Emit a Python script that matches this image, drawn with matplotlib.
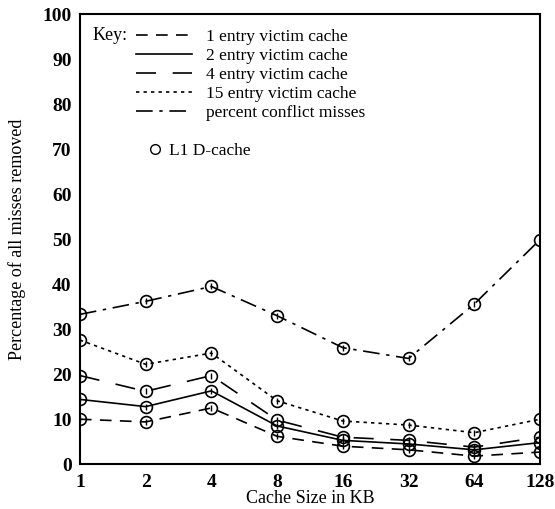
import matplotlib.pyplot as plt
from matplotlib.lines import Line2D

plt.rcParams['font.family'] = ['Liberation Serif', 'DejaVu Serif']

sizes = [1, 2, 4, 8, 16, 32, 64, 128]
size_labels = ['1', '2', '4', '8', '16', '32', '64', '128']

vc1 = [10.0, 9.4, 12.5, 6.2, 4.0, 3.2, 1.8, 2.7]
vc2 = [14.4, 12.8, 16.3, 8.5, 5.3, 4.5, 3.2, 4.8]
vc4 = [19.7, 16.2, 19.7, 9.8, 6.0, 5.3, 3.8, 6.0]
vc15 = [27.6, 22.2, 24.7, 14.1, 9.6, 8.7, 7.0, 10.0]
conflict = [33.3, 36.2, 39.5, 33.0, 25.9, 23.5, 35.6, 49.9]

labels = ['1 entry victim cache', '2 entry victim cache', '4 entry victim cache',
          '15 entry victim cache', 'percent conflict misses']
dashes = [(0, (7, 5)), '-', (0, (12, 10)), (0, (2, 2.5)), (0, (10, 4, 2, 4))]
series = [vc1, vc2, vc4, vc15, conflict]

fig = plt.figure(figsize=(5.55, 5.09), dpi=100)
ax = fig.add_axes([0.144, 0.088, 0.829, 0.884])

handles = []
for vals, ls, lab in zip(series, dashes, labels):
    ax.plot(sizes, vals, color='black', linestyle=ls, linewidth=1.2,
            marker='o', markersize=8.5, markerfacecolor='none',
            markeredgecolor='black', markeredgewidth=1.2)
    ax.plot(sizes, vals, linestyle='none', marker='|', markersize=4,
            markeredgecolor='black', markeredgewidth=1.0)
    handles.append(Line2D([], [], color='black', linestyle=ls, linewidth=1.2))

ax.set_xscale('log', base=2)
ax.set_xlim(1, 128)
ax.set_ylim(0, 100)
ax.set_xticks(sizes)
ax.set_xticklabels(size_labels)
ax.set_yticks(range(0, 101, 10))
ax.minorticks_off()
ax.tick_params(length=0, labelsize=14)
ax.tick_params(axis='y', pad=6)
ax.tick_params(axis='x', pad=7)
for t in ax.get_xticklabels() + ax.get_yticklabels():
    t.set_fontweight('bold')
for sp in ax.spines.values():
    sp.set_linewidth(1.5)

ax.set_xlabel('Cache Size in KB', fontsize=13, labelpad=-1)
ax.set_ylabel('Percentage of all misses removed', fontsize=13, labelpad=12)

ax.text(0.027, 0.952, 'Key:', transform=ax.transAxes, fontsize=13,
        va='center', ha='left')
leg = ax.legend(handles, labels, loc='upper left', bbox_to_anchor=(0.1, 0.99),
                frameon=False, fontsize=12.5, handlelength=3.2,
                labelspacing=0.16, handletextpad=0.8, borderaxespad=0.2)
ax.add_artist(leg)
mk = Line2D([], [], linestyle='none', marker='o', markersize=7,
            markerfacecolor='none', markeredgecolor='black')
ax.legend([mk], ['L1 D-cache'], loc='upper left', bbox_to_anchor=(0.115, 0.748),
          frameon=False, fontsize=12.5, handlelength=0.8, handletextpad=0.4)

fig.savefig('out.png', dpi=100)
